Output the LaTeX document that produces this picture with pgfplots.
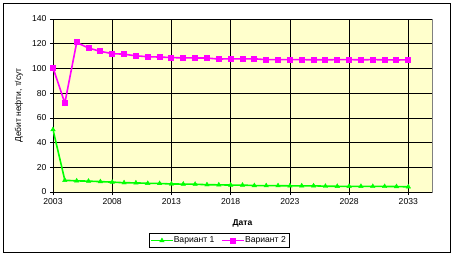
\documentclass[border=0pt]{standalone}
\usepackage{pgfplots}
\pgfplotsset{compat=1.18}
\usepackage{fontspec}
\setmainfont{Liberation Sans}
\definecolor{bgy}{HTML}{FFFFCC}
\definecolor{vgreen}{HTML}{00FF00}
\definecolor{vmag}{HTML}{FF00FF}
\begin{document}
\begin{tikzpicture}[x=1pt,y=1pt]
\useasboundingbox (-53,-65) rectangle (402,192);
\fill[white] (-53,-65) rectangle (402,192);
\draw[black, line width=1pt] (-49,-60) rectangle (397,188);
\begin{axis}[
  at={(0,0)}, anchor=origin,
  scale only axis, width=379pt, height=173pt,
  xmin=2003, xmax=2035, ymin=0, ymax=140,
  xtick={2003,2008,2013,2018,2023,2028,2033},
  ytick={0,20,40,60,80,100,120,140},
  xticklabel style={/pgf/number format/.cd, set thousands separator={}, assume math mode=true},
  yticklabel style={/pgf/number format/assume math mode=true},
  tick label style={font=\fontsize{8.6}{10}\selectfont},
  grid=major, major grid style={black, line width=0.6pt},
  axis background/.style={fill=bgy, draw=gray},
  axis x line*=bottom, axis y line*=left,
  axis line style={black, line width=0.6pt, -},
  tick align=outside, major tick length=3pt,
  tick style={black, line width=0.6pt},
  xlabel={\bfseries Дата},
  ylabel={Дебит нефти, т/сут},
  label style={font=\fontsize{8.5}{10}\selectfont},
  xlabel style={at={(axis description cs:0.5,0)}, anchor=center, yshift=-31pt},
  ylabel style={at={(axis description cs:-0.0897,0.5)}, anchor=center},
  legend columns=2,
  legend style={at={(0.438,-0.281)}, anchor=center, draw=black, line width=0.8pt,
    font=\fontsize{8.6}{10}\selectfont, inner sep=1.2pt,
    /tikz/every even column/.append style={column sep=5pt},
    /tikz/every odd column/.append style={column sep=-2pt}},
  legend cell align=left,
  legend image code/.code={\draw[mark repeat=2,mark phase=2,#1] plot coordinates {(0pt,0pt) (11pt,0pt) (22pt,0pt)};},
]
\addplot[vgreen, line width=1.6pt, mark=triangle*, mark size=2.6pt, mark options={solid, line width=0.4pt}] coordinates {
(2003,50.5) (2004,9.5) (2005,9) (2006,8.8) (2007,8.4) (2008,8) (2009,7.5) (2010,7.4) (2011,7) (2012,6.9)
(2013,6.5) (2014,6.4) (2015,6.3) (2016,5.9) (2017,5.8) (2018,5.6) (2019,5.6) (2020,5.2) (2021,5.1) (2022,5.1)
(2023,5) (2024,5) (2025,5) (2026,4.7) (2027,4.6) (2028,4.6) (2029,4.6) (2030,4.5) (2031,4.5) (2032,4.4) (2033,4.2)};
\addlegendentry{Вариант 1}
\addplot[vmag, line width=1.6pt, mark=square*, mark size=2.2pt, mark options={solid}] coordinates {
(2003,100.5) (2004,72) (2005,121) (2006,116.5) (2007,113.8) (2008,112) (2009,111.5) (2010,110.2) (2011,109.5) (2012,109.2)
(2013,108.8) (2014,108.5) (2015,108.5) (2016,108.4) (2017,107.6) (2018,107.8) (2019,107.7) (2020,107.8) (2021,107.1) (2022,107.1)
(2023,107.1) (2024,107.1) (2025,107) (2026,107) (2027,107.1) (2028,107.1) (2029,107) (2030,107.1) (2031,107) (2032,106.8) (2033,107)};
\addlegendentry{Вариант 2}
\end{axis}
\end{tikzpicture}
\end{document}
